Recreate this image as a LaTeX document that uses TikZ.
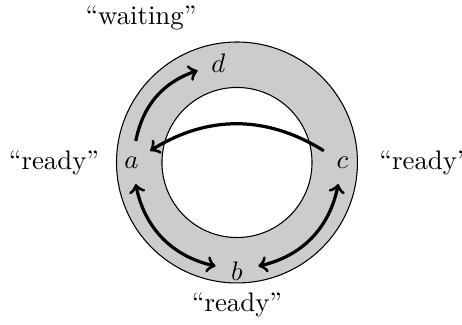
\documentclass[tikz,border=0pt]{standalone}
\begin{document}
\begin{tikzpicture}[state/.style={circle,minimum size=16pt,inner sep=0pt}]
\useasboundingbox(-3.108,-2.131)rectangle(2.951,2.131);
\draw[fill=black!20,even odd rule](0,0)circle(1.58)(0,0)circle(0.984);%環
\node[state](a)at(180:1.384){$a$};
\node[state](b)at(270:1.423){$b$};
\node[state](c)at(0:1.384){$c$};
\node[state](d)at(100.6:1.321){$d$};
\node(wait)at(-1.259,1.895){``waiting''};%状態
\node(readya)at(-2.40,0){``ready''};
\node(readyb)at(0,-1.869){``ready''};
\node(readyc)at(2.46,0){``ready''};
\draw[->,>=to,very thick](a)to[bend left=30](d);
\draw[->,>=to,very thick](c)to[bend right=32](a);
\draw[<->,>=to,very thick](a)to[bend right=33](b);
\draw[<->,>=to,very thick](c)to[bend left=33](b);
\end{tikzpicture}
\end{document}
